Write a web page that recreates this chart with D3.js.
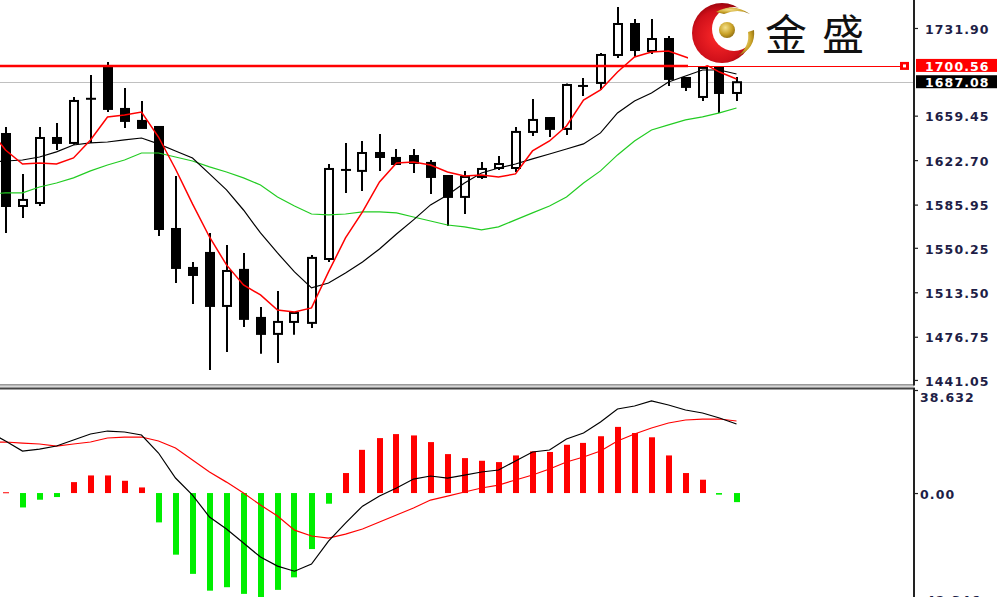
<!DOCTYPE html>
<html><head><meta charset="utf-8">
<script src="https://cdn.jsdelivr.net/npm/d3@7"></script>
<style>html,body{margin:0;padding:0;background:#fff;overflow:hidden}</style>
</head><body>
<svg id="c" width="997" height="597"></svg>
<script>
// ---------- data ----------
const openP  = [1644.3,1584.8,1587.3,1641.0,1636.9,1673.2,1699.7,1665.0,1655.1,1650.1,1565.8,1533.6,1546.0,1502.2,1532.0,1492.3,1479.1,1489.0,1488.2,1541.0,1614.6,1613.8,1628.6,1624.5,1626.1,1620.4,1609.6,1592.3,1608.8,1616.2,1616.2,1646.0,1657.5,1648.5,1684.0,1686.5,1709.6,1735.2,1712.9,1722.8,1690.6,1674.9,1698.9,1678.2];
const highP  = [1650.1,1611.3,1650.1,1653.4,1674.9,1693.1,1703.8,1682.3,1671.6,1650.9,1609.6,1538.6,1562.5,1552.6,1546.0,1501.4,1514.6,1496.4,1544.4,1619.5,1636.9,1638.5,1644.3,1631.9,1631.9,1622.8,1609.6,1613.8,1621.2,1626.1,1650.1,1673.2,1658.4,1686.0,1690.6,1711.2,1749.3,1739.3,1739.3,1725.3,1691.4,1699.7,1699.7,1691.4];
const lowP   = [1562.5,1574.9,1584.8,1631.1,1635.5,1636.9,1662.5,1649.3,1649.3,1560.1,1521.2,1503.9,1449.3,1464.2,1484.9,1462.6,1455.1,1478.3,1484.0,1538.6,1595.6,1597.2,1613.8,1618.7,1612.1,1594.8,1568.3,1578.2,1607.1,1614.6,1612.9,1642.7,1641.8,1643.5,1675.7,1680.7,1707.1,1707.9,1710.4,1684.0,1679.9,1671.6,1661.7,1671.6];
const closeP = [1584.8,1589.8,1641.0,1636.9,1671.6,1673.6,1665.0,1655.1,1649.3,1565.8,1533.6,1527.8,1502.2,1531.1,1491.5,1479.1,1489.0,1496.4,1541.9,1615.4,1614.6,1628.6,1625.3,1619.5,1620.4,1608.8,1592.3,1608.8,1615.4,1619.5,1646.0,1655.9,1648.5,1684.8,1684.0,1709.6,1735.2,1713.7,1722.8,1689.8,1683.2,1698.9,1678.2,1687.08];

// moving averages: first value belongs to the bar just before the first visible one
const maFast = [1649.0,1631.1,1619.5,1620.4,1619.5,1624.5,1639.4,1658.4,1660.0,1662.5,1641.8,1615.4,1586.5,1559.2,1536.1,1519.6,1511.3,1498.9,1497.3,1500.6,1530.3,1558.4,1579.9,1604.7,1620.4,1621.2,1618.7,1612.9,1609.6,1610.4,1608.8,1611.3,1630.3,1638.5,1650.9,1672.4,1680.7,1695.5,1707.9,1712.1,1712.9,1707.9,1703.0,1695.5,1689.8];
const maMid  = [1621.2,1622.0,1622.8,1625.3,1629.5,1635.2,1636.9,1637.7,1639.4,1641.0,1636.1,1630.3,1624.5,1611.3,1598.1,1581.5,1562.5,1546.0,1530.3,1517.1,1521.2,1529.5,1538.6,1549.3,1561.7,1573.3,1585.7,1593.9,1603.8,1612.1,1616.2,1619.5,1623.7,1627.8,1631.9,1636.1,1645.2,1661.7,1671.6,1678.2,1687.3,1692.2,1697.2,1697.2,1693.9];
const maSlow = [1594.8,1595.6,1595.6,1600.5,1603.8,1608.0,1613.8,1618.7,1622.8,1628.6,1628.6,1625.3,1622.0,1617.1,1612.9,1608.0,1602.2,1592.3,1584.8,1578.2,1577.4,1578.2,1579.9,1579.9,1579.1,1575.7,1572.4,1569.1,1567.5,1565.0,1567.5,1573.3,1579.1,1584.8,1592.3,1603.8,1613.8,1627.0,1638.5,1647.6,1651.8,1655.9,1658.4,1661.7,1665.8];

const macdLine   = [23.0,19.5,15.75,16.5,17.63,19.88,22.13,23.25,22.88,21.75,15.0,5.63,-0.75,-9.0,-13.5,-18.75,-24.0,-27.4,-29.3,-26.6,-18.0,-11.25,-4.9,-1.13,1.88,5.25,6.38,5.63,6.75,7.88,8.63,12.0,15.38,16.13,20.25,22.5,26.63,31.51,32.63,34.51,33.01,31.13,30.01,28.13,25.88];
const signalLine = [19.1,19.13,18.75,18.38,17.63,18.38,19.13,20.63,21.0,21.0,19.5,16.88,12.38,7.88,4.1,0.0,-4.5,-8.6,-13.9,-16.1,-16.9,-15.4,-13.5,-10.88,-8.25,-5.63,-2.63,-1.13,0.38,1.88,3.0,4.88,6.75,9.0,11.63,13.5,15.75,19.5,22.13,24.38,26.25,27.38,27.75,27.75,27.0];
const histogram  = [0.3,-5.4,-2.5,-1.5,4.1,6.6,6.6,4.6,2.1,-11.0,-23.1,-30.3,-36.6,-35.3,-37.8,-42.3,-36.3,-31.6,-21.0,-4.0,7.5,16.2,20.6,22.1,21.6,19.1,14.6,13.1,12.1,11.6,14.1,15.6,15.4,18.1,18.8,21.3,24.8,22.5,20.9,14.1,7.5,5.0,-0.6,-3.4];

const priceTicks = [1731.90,1659.45,1622.70,1585.95,1550.25,1513.50,1476.75,1441.05];
const macdTicks = [38.632, 0, -42.346];
const macdTickLabels = ["38.632","0.00","-42.346"];
const levelPrice = 1700.56;
const lastPrice = 1687.08;
const logoText = "金盛";

// ---------- layout ----------
const W = 997, H = 597, axisX = 914;
const svg = d3.select('#c');
svg.append('rect').attr('width', W).attr('height', H).attr('fill', '#fff');

const candleIdx = d3.range(openP.length);
const lineIdx = d3.range(-1, openP.length);

const x = d3.scaleLinear().domain([0, 43]).range([5.5, 736.5]);
const y = d3.scaleLinear().domain([1437.7, 1755.03]).range([384, 0]);
const ym = d3.scaleLinear().domain([-42.346, 38.632]).range([606, 390]);

const defs = svg.append('defs');
defs.append('clipPath').attr('id', 'mainClip').append('rect').attr('x', 0).attr('y', 0).attr('width', axisX).attr('height', 384);
defs.append('clipPath').attr('id', 'subClip').append('rect').attr('x', 0).attr('y', 389).attr('width', axisX).attr('height', H - 389);

// ---------- main panel ----------
const main = svg.append('g').attr('clip-path', 'url(#mainClip)');

// last price line
main.append('line').attr('x1', 0).attr('x2', axisX).attr('y1', Math.round(y(lastPrice)) + 0.5).attr('y2', Math.round(y(lastPrice)) + 0.5)
  .attr('stroke', '#c0c0c0').attr('stroke-width', 1);

// candles
const cg = main.append('g');
candleIdx.forEach(i => {
  const cx = Math.round(x(i)) + 0.0;
  const o = openP[i], c = closeP[i];
  const bull = c >= o;
  cg.append('line').attr('x1', cx).attr('x2', cx).attr('y1', y(highP[i])).attr('y2', y(lowP[i]))
    .attr('stroke', '#000').attr('stroke-width', 2);
  const top = y(Math.max(o, c)), bot = y(Math.min(o, c));
  if (bot - top < 2) {
    cg.append('line').attr('x1', cx - 5).attr('x2', cx + 5).attr('y1', (top + bot) / 2).attr('y2', (top + bot) / 2)
      .attr('stroke', '#000').attr('stroke-width', 2);
  } else {
    cg.append('rect').attr('x', cx - 4).attr('y', top).attr('width', 8).attr('height', bot - top)
      .attr('fill', bull ? '#fff' : '#000').attr('stroke', '#000').attr('stroke-width', 2);
  }
});

// moving averages
const maLine = arr => d3.line().x((d, k) => x(lineIdx[k])).y(d => y(d))(arr);
main.append('path').attr('d', maLine(maSlow)).attr('fill', 'none').attr('stroke', '#22cc22').attr('stroke-width', 1.2);
main.append('path').attr('d', maLine(maMid)).attr('fill', 'none').attr('stroke', '#000').attr('stroke-width', 1.2);
main.append('path').attr('d', maLine(maFast)).attr('fill', 'none').attr('stroke', '#ff0000').attr('stroke-width', 1.5);

// level line (red)
const ly = y(levelPrice);
main.append('line').attr('x1', 0).attr('x2', 688).attr('y1', ly).attr('y2', ly).attr('stroke', '#ff0000').attr('stroke-width', 2.5);
main.append('line').attr('x1', 688).attr('x2', 902).attr('y1', ly + 0.6).attr('y2', ly + 0.6).attr('stroke', '#ff0000').attr('stroke-width', 1.2);
main.append('rect').attr('x', 900).attr('y', ly - 4).attr('width', 9).attr('height', 8).attr('fill', '#ff0000');
main.append('rect').attr('x', 903).attr('y', ly - 1.5).attr('width', 3).attr('height', 3).attr('fill', '#fff');

// ---------- logo ----------
const logo = svg.append('g');
logo.append('rect').attr('x', 688).attr('y', 0).attr('width', 184).attr('height', ly - 0.8).attr('fill', '#fff');
const rg = defs.append('radialGradient').attr('id', 'redG').attr('cx', '0.45').attr('cy', '0.55').attr('r', '0.6');
rg.append('stop').attr('offset', '0%').attr('stop-color', '#ff2a2a');
rg.append('stop').attr('offset', '70%').attr('stop-color', '#d0101a');
rg.append('stop').attr('offset', '100%').attr('stop-color', '#8a0008');
const gg = defs.append('radialGradient').attr('id', 'goldG').attr('cx', '0.4').attr('cy', '0.35').attr('r', '0.7');
gg.append('stop').attr('offset', '0%').attr('stop-color', '#f4e08a');
gg.append('stop').attr('offset', '60%').attr('stop-color', '#c9a227');
gg.append('stop').attr('offset', '100%').attr('stop-color', '#8d6b10');
logo.append('circle').attr('cx', 722).attr('cy', 33).attr('r', 30).attr('fill', 'url(#redG)');
logo.append('circle').attr('cx', 734).attr('cy', 29).attr('r', 22).attr('fill', '#fff');
logo.append('path').attr('d', 'M716,12 Q733,2 750,14 Q738,8 724,14 Z').attr('fill', 'url(#goldG)');
logo.append('path').attr('d', 'M754,30 Q756,48 738,56 Q750,46 748,32 Z').attr('fill', 'url(#goldG)');
logo.append('circle').attr('cx', 727).attr('cy', 30).attr('r', 8).attr('fill', 'url(#goldG)');
logo.append('text').attr('x', 765).attr('y', 50).text(logoText)
  .attr('font-family', '"Noto Sans CJK SC", sans-serif').attr('font-size', 42).attr('letter-spacing', 15).attr('fill', '#111');

// ---------- MACD panel ----------
const sub = svg.append('g').attr('clip-path', 'url(#subClip)');
sub.selectAll('rect.h').data(histogram).enter().append('rect')
  .attr('x', (d, i) => Math.round(x(i)) - 3).attr('width', 6)
  .attr('y', d => d >= 0 ? ym(d) : ym(0))
  .attr('height', d => Math.max(1, Math.abs(ym(d) - ym(0))))
  .attr('fill', d => d >= 0 ? '#ff0000' : '#00ee00');
const mLine = arr => d3.line().x((d, k) => x(lineIdx[k])).y(d => ym(d))(arr);
sub.append('path').attr('d', mLine(signalLine)).attr('fill', 'none').attr('stroke', '#ff0000').attr('stroke-width', 1.2);
sub.append('path').attr('d', mLine(macdLine)).attr('fill', 'none').attr('stroke', '#000').attr('stroke-width', 1.2);

// ---------- frames ----------
svg.append('line').attr('x1', 0).attr('x2', axisX).attr('y1', 385).attr('y2', 385).attr('stroke', '#333').attr('stroke-width', 1);
svg.append('line').attr('x1', 0).attr('x2', axisX).attr('y1', 386.5).attr('y2', 386.5).attr('stroke', '#d8d8d8').attr('stroke-width', 2);
svg.append('line').attr('x1', 0).attr('x2', axisX + 1).attr('y1', 388.5).attr('y2', 388.5).attr('stroke', '#444').attr('stroke-width', 2);
svg.append('line').attr('x1', axisX).attr('x2', axisX).attr('y1', 0).attr('y2', 385.5).attr('stroke', '#222').attr('stroke-width', 2);
svg.append('line').attr('x1', axisX).attr('x2', axisX).attr('y1', 388).attr('y2', H).attr('stroke', '#222').attr('stroke-width', 2);

// ---------- axes ----------
const labelFont = g => g.selectAll('text').attr('font-family', '"DejaVu Sans", sans-serif').attr('font-weight', 'bold')
  .attr('font-size', 12.5).attr('letter-spacing', 1.1).attr('fill', '#1e1e46');

const ax = svg.append('g').attr('transform', `translate(${axisX},0)`)
  .call(d3.axisRight(y).tickValues(priceTicks).tickSize(4).tickPadding(7).tickFormat(d3.format('.2f')));
ax.select('.domain').remove();
ax.selectAll('line').attr('stroke', '#222').attr('stroke-width', 1.2);
ax.selectAll('text').attr('dy', '0.42em');
labelFont(ax);

const axm = svg.append('g').attr('transform', `translate(${axisX},0)`)
  .call(d3.axisRight(ym).tickValues(macdTicks).tickSize(4).tickPadding(2).tickFormat((d, i) => macdTickLabels[i]));
axm.select('.domain').remove();
axm.selectAll('line').attr('stroke', '#222').attr('stroke-width', 1.2);
axm.selectAll('text').attr('dy', (d, i) => i === 0 ? '0.95em' : (i === 2 ? '-0.15em' : '0.42em'));
labelFont(axm);

// ---------- price tags ----------
const tag = (val, bg) => {
  const ty = y(val);
  svg.append('rect').attr('x', 916).attr('y', ty - 7).attr('width', W - 916).attr('height', 13).attr('fill', bg);
  svg.append('text').attr('x', 925).attr('y', ty).attr('dy', '0.38em').text(d3.format('.2f')(val))
    .attr('font-family', '"DejaVu Sans", sans-serif').attr('font-weight', 'bold').attr('font-size', 12.5)
    .attr('letter-spacing', 1.1).attr('fill', '#fff');
};
tag(levelPrice, '#ff0000');
tag(lastPrice, '#000');
</script>
</body></html>
